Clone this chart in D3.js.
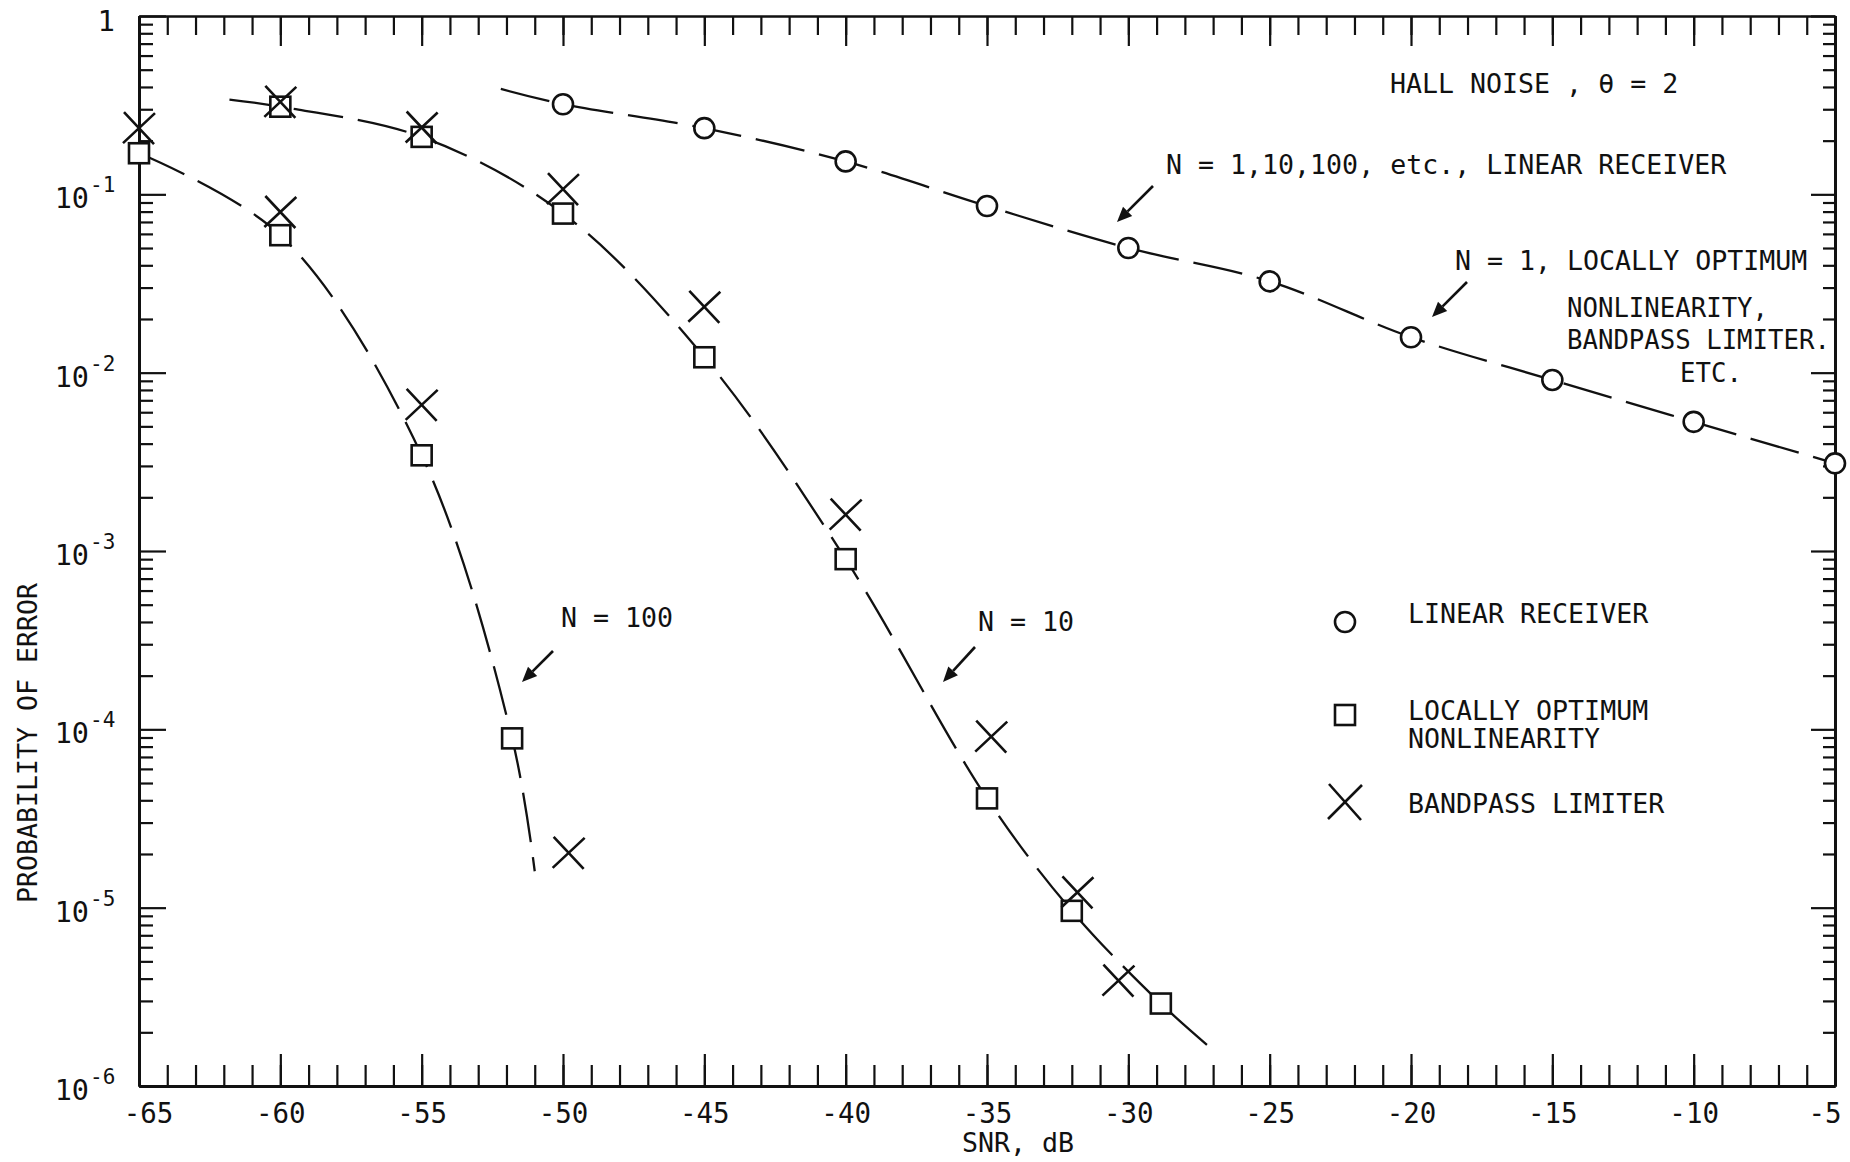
<!DOCTYPE html>
<html><head><meta charset="utf-8">
<script src="https://cdn.jsdelivr.net/npm/d3@7"></script>
<style>
html,body{margin:0;padding:0;background:#fff;}
svg{display:block;background:#fff;}
text{font-family:"DejaVu Sans Mono",monospace;fill:#111;}
</style></head><body>
<svg id="chart" width="1850" height="1162"></svg>
<script>
// ---------------- DATA ----------------
const xMajorTicks = [-65,-60,-55,-50,-45,-40,-35,-30,-25,-20,-15,-10,-5];
const xTickLabels = ["-65","-60","-55","-50","-45","-40","-35","-30","-25","-20","-15","-10","-5"];
const yDecades = [1,1e-1,1e-2,1e-3,1e-4,1e-5,1e-6];
const yTickBase = ["1","10","10","10","10","10","10"];
const yTickSup  = ["","-1","-2","-3","-4","-5","-6"];
const yMinorMultipliers = [2,3,4,5,6,7,8,9];

// Linear receiver (N = 1, 10, 100 ...) – circles
const linSnr = [-50,-45,-40,-35,-30,-25,-20,-15,-10,-5];
const linPe  = [0.32,0.235,0.153,0.086,0.050,0.0325,0.0158,0.0091,0.0053,0.0031];
const linCurveSnr = [-52.2,-50,-45,-40,-35,-30,-25,-20,-15,-10,-5];
const linCurvePe  = [0.39,0.32,0.235,0.153,0.086,0.050,0.0325,0.0158,0.0091,0.0053,0.0031];

// N = 10
const n10LoSnr = [-60,-55,-50,-45,-40,-35,-32,-28.85];
const n10LoPe  = [0.31,0.21,0.078,0.0122,9.0e-4,4.1e-5,9.6e-6,2.9e-6];
const n10BlSnr = [-60,-55,-50,-45,-40,-34.85,-31.8,-30.35];
const n10BlPe  = [0.33,0.237,0.107,0.0234,1.6e-3,9.1e-5,1.22e-5,3.9e-6];
const n10CurveSnr = [-61.8,-60,-55,-50,-45,-40,-35,-32,-28.85,-27.1];
const n10CurvePe  = [0.34,0.31,0.21,0.078,0.0122,9.0e-4,4.1e-5,9.6e-6,2.9e-6,1.64e-6];

// N = 100
const n100LoSnr = [-65,-60,-55,-51.8];
const n100LoPe  = [0.17,0.059,3.44e-3,8.9e-5];
const n100BlSnr = [-65,-60,-55,-49.8];
const n100BlPe  = [0.235,0.0796,6.6e-3,2.03e-5];
const n100CurveSnr = [-65,-60,-55,-51.8,-51.0];
const n100CurvePe  = [0.17,0.059,3.44e-3,8.9e-5,1.6e-5];

const legendLabels = [["LINEAR RECEIVER"],["LOCALLY OPTIMUM","NONLINEARITY"],["BANDPASS LIMITER"]];

// ---------------- DRAW ----------------
const svg = d3.select("#chart");
const INK = "#111";
const FS = 26.6;
const x = d3.scaleLinear().domain([-65,-5]).range([139,1835]);
const y = d3.scaleLog().domain([1,1e-6]).range([16,1086]);

const xMinorTicks = d3.range(-65,-4,1);
const yMinorTicks = [];
yDecades.slice(1).forEach(d => yMinorMultipliers.forEach(m => yMinorTicks.push(m*d)));

function styleAxis(g, domainW){
  g.attr("font-family",null).attr("font-size",null);
  g.select(".domain").attr("stroke",INK).attr("stroke-width",domainW);
  g.selectAll(".tick line").attr("stroke",INK).attr("stroke-width",2.2);
}
// bottom
svg.append("g").attr("transform","translate(0,1086)")
  .call(d3.axisBottom(x).tickValues(xMinorTicks).tickSizeInner(-21).tickSizeOuter(0).tickFormat(""))
  .call(g=>styleAxis(g,2.8));
svg.append("g").attr("transform","translate(0,1086)")
  .call(d3.axisBottom(x).tickValues(xMajorTicks).tickSizeInner(-32).tickSizeOuter(0).tickPadding(17)
        .tickFormat((d,i)=>xTickLabels[i]))
  .call(g=>styleAxis(g,2.8))
  .call(g=>{
    const t = g.selectAll(".tick text").attr("font-size",27.5).attr("fill",INK)
        .attr("font-family","DejaVu Sans Mono");
    t.filter((d,i)=>i===0).attr("x",9);
    t.filter((d,i)=>i===xMajorTicks.length-1).attr("text-anchor","end").attr("x",6);
  });
// top
svg.append("g").attr("transform","translate(0,16)")
  .call(d3.axisTop(x).tickValues(xMinorTicks).tickSizeInner(-19).tickSizeOuter(0).tickFormat(""))
  .call(g=>styleAxis(g,2.2));
svg.append("g").attr("transform","translate(0,16)")
  .call(d3.axisTop(x).tickValues(xMajorTicks).tickSizeInner(-30).tickSizeOuter(0).tickFormat(""))
  .call(g=>styleAxis(g,2.2));
// left
svg.append("g").attr("transform","translate(139,0)")
  .call(d3.axisLeft(y).tickValues(yMinorTicks).tickSizeInner(-14).tickSizeOuter(0).tickFormat(""))
  .call(g=>styleAxis(g,3));
svg.append("g").attr("transform","translate(139,0)")
  .call(d3.axisLeft(y).tickValues(yDecades).tickSizeInner(-27).tickSizeOuter(0).tickFormat(""))
  .call(g=>styleAxis(g,3));
// right
svg.append("g").attr("transform","translate(1835,0)")
  .call(d3.axisRight(y).tickValues(yMinorTicks).tickSizeInner(-12).tickSizeOuter(0).tickFormat(""))
  .call(g=>styleAxis(g,3));
svg.append("g").attr("transform","translate(1835,0)")
  .call(d3.axisRight(y).tickValues(yDecades).tickSizeInner(-24).tickSizeOuter(0).tickFormat(""))
  .call(g=>styleAxis(g,3));

// y labels with superscripts
yDecades.forEach((v,i)=>{
  const yy = y(v);
  if (yTickSup[i] === "") {
    svg.append("text").attr("x",115).attr("y",yy+15).attr("text-anchor","end")
      .attr("font-size",29).text(yTickBase[i]);
  } else {
    svg.append("text").attr("x",89).attr("y",yy+14).attr("text-anchor","end")
      .attr("font-size",28.5).text(yTickBase[i]);
    svg.append("text").attr("x",90).attr("y",yy-2).attr("text-anchor","start")
      .attr("font-size",21).text(yTickSup[i]);
  }
});

// axis titles
svg.append("text").attr("x",962).attr("y",1152).attr("font-size",FS).text("SNR, dB");
svg.append("text").attr("transform","translate(37,743) rotate(-90)").attr("text-anchor","middle")
  .attr("font-size",FS).text("PROBABILITY OF ERROR");

// curves
const line = d3.line().x(d=>x(d[0])).y(d=>y(d[1])).curve(d3.curveCatmullRom.alpha(0.5));
function curve(snr, pe){
  svg.append("path").datum(snr.map((s,i)=>[s,pe[i]])).attr("d",line)
    .attr("fill","none").attr("stroke",INK).attr("stroke-width",2.3)
    .attr("stroke-dasharray","50,15");
}
curve(linCurveSnr, linCurvePe);
curve(n10CurveSnr, n10CurvePe);
curve(n100CurveSnr, n100CurvePe);

// markers
const MS = 10;
function circles(snr, pe){
  svg.append("g").selectAll("circle").data(snr.map((s,i)=>[s,pe[i]])).join("circle")
    .attr("cx",d=>x(d[0])).attr("cy",d=>y(d[1])).attr("r",MS)
    .attr("fill","#fff").attr("stroke",INK).attr("stroke-width",2.6);
}
function squares(snr, pe){
  svg.append("g").selectAll("rect").data(snr.map((s,i)=>[s,pe[i]])).join("rect")
    .attr("x",d=>x(d[0])-MS).attr("y",d=>y(d[1])-MS).attr("width",2*MS).attr("height",2*MS)
    .attr("fill","#fff").attr("stroke",INK).attr("stroke-width",2.6);
}
function crosses(snr, pe){
  const g = svg.append("g");
  snr.forEach((s,i)=>{
    const cx = x(s), cy = y(pe[i]);
    g.append("path").attr("d",`M${cx-15},${cy-16}L${cx+15},${cy+16}M${cx+16},${cy-15}L${cx-16},${cy+15}`)
      .attr("stroke",INK).attr("stroke-width",2.6).attr("fill","none");
  });
}
circles(linSnr, linPe);
squares(n10LoSnr, n10LoPe);
squares(n100LoSnr, n100LoPe);
crosses(n10BlSnr, n10BlPe);
crosses(n100BlSnr, n100BlPe);

// annotations
function txt(t, xx, yy, fs){ svg.append("text").attr("x",xx).attr("y",yy).attr("font-size",fs||FS).text(t); }
txt("HALL NOISE , θ = 2", 1390, 93);
txt("N = 1,10,100, etc., LINEAR RECEIVER", 1166, 174);
txt("N = 1, LOCALLY OPTIMUM", 1455, 270);
txt("NONLINEARITY,", 1567, 317, 25.7);
txt("BANDPASS LIMITER.", 1567, 349, 25.7);
txt("ETC.", 1680, 382, 25.7);
txt("N = 100", 561, 627);
txt("N = 10", 978, 631);

// arrows
function arrow(x1,y1,x2,y2){
  const a = Math.atan2(y2-y1,x2-x1), L=15, W=6.5;
  const bx = x2 - L*Math.cos(a), by = y2 - L*Math.sin(a);
  svg.append("line").attr("x1",x1).attr("y1",y1).attr("x2",bx).attr("y2",by)
    .attr("stroke",INK).attr("stroke-width",2.6);
  svg.append("path").attr("d",`M${x2},${y2}L${bx+W*Math.sin(a)},${by-W*Math.cos(a)}L${bx-W*Math.sin(a)},${by+W*Math.cos(a)}Z`)
    .attr("fill",INK);
}
arrow(1153,186,1117,222);
arrow(1467,282,1432,317);
arrow(553,651,522,682);
arrow(975,647,943,682);

// legend
const lgX = 1345, lgT = 1408;
svg.append("circle").attr("cx",lgX).attr("cy",622).attr("r",MS)
  .attr("fill","#fff").attr("stroke",INK).attr("stroke-width",2.6);
txt(legendLabels[0][0], lgT, 623);
svg.append("rect").attr("x",lgX-MS).attr("y",715-MS).attr("width",2*MS).attr("height",2*MS)
  .attr("fill","#fff").attr("stroke",INK).attr("stroke-width",2.6);
txt(legendLabels[1][0], lgT, 720);
txt(legendLabels[1][1], lgT, 748);
svg.append("path").attr("d",`M${lgX-16},${802-18}L${lgX+16},${802+18}M${lgX+17},${802-17}L${lgX-17},${802+17}`)
  .attr("stroke",INK).attr("stroke-width",2.6);
txt(legendLabels[2][0], lgT, 813);
</script>
</body></html>
